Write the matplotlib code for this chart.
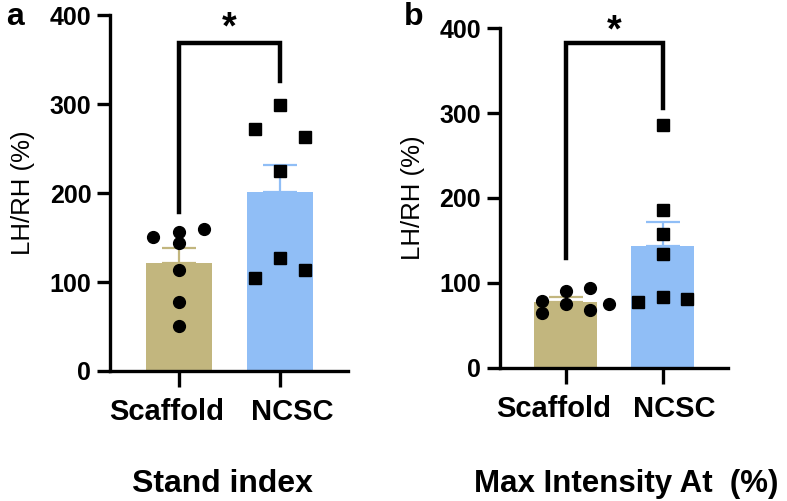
import numpy as np
import matplotlib
matplotlib.use('Agg')
import matplotlib.pyplot as plt
import matplotlib.transforms as mtransforms

plt.rcParams['font.family'] = ['Liberation Sans', 'DejaVu Sans']

# ──── Data ─────────────────────────────────────────────────────
GROUPS = ['Scaffold', 'NCSC']

STAND_MEAN = [121, 201]
STAND_SEM = [17, 31]
STAND_SCAF = [151, 156, 143.5, 159, 113.5, 77, 51]
STAND_NCSC = [271.5, 298.5, 263, 225, 126.6, 114, 105]
STAND_JIT_SCAF = [-0.25, 0, 0, 0.25, 0, 0, 0]
STAND_JIT_NCSC = [-0.25, 0, 0.25, 0, 0, 0.25, -0.25]
STAND_BRACKET = [179, 369, 326]

MAXI_MEAN = [78, 143]
MAXI_SEM = [5, 29]
MAXI_SCAF = [78.6, 90.8, 94.4, 75.1, 68, 75.1, 64.1]
MAXI_NCSC = [286, 186, 157, 134, 77.5, 83, 81]
MAXI_JIT_SCAF = [-0.25, 0, 0.25, 0, 0.25, 0.45, -0.25]
MAXI_JIT_NCSC = [0, 0, 0, 0, -0.25, 0, 0.25]
MAXI_BRACKET = [129, 383, 306]

C_SCAF = '#c2b67e'
C_NCSC = '#90bef6'


def panel(ax, mean, sem, scaf, ncsc, jit_s, jit_n, bracket, star_top):
    x = np.arange(2)
    cols = [C_SCAF, C_NCSC]
    ax.bar(x, mean, width=0.65, color=cols, zorder=1)
    for i in range(2):
        ax.errorbar(x[i], mean[i], yerr=[[0], [sem[i]]], color=cols[i],
                    lw=1.6, capsize=12, capthick=1.6, zorder=2)
    ax.plot(x[0] + np.asarray(jit_s), scaf, 'o', color='black', ms=8.5, zorder=3)
    ax.plot(x[1] + np.asarray(jit_n), ncsc, 's', color='black', ms=8, zorder=3)

    # significance bracket
    lo, top, hi = bracket
    ax.plot([0, 0, 1, 1], [lo, top, top, hi], color='black', lw=3.2,
            solid_joinstyle='miter', zorder=4, clip_on=False)
    ax.text(0.5, star_top, '*', ha='center', va='top', fontsize=27,
            fontweight='bold', clip_on=False)

    ax.set_ylim(0, 400)
    ax.set_xlim(-0.68, 1.675)
    ax.set_yticks([0, 100, 200, 300, 400])
    ax.set_xticks(x)
    ax.set_xticklabels(GROUPS)
    for s in ['top', 'right']:
        ax.spines[s].set_visible(False)
    for s in ['left', 'bottom']:
        ax.spines[s].set_linewidth(2.4)
    ax.tick_params(axis='y', width=2.4, length=9.5, labelsize=18, pad=4)
    ax.tick_params(axis='x', width=2.4, length=11.5, labelsize=21, pad=8)
    for lab in ax.get_xticklabels() + ax.get_yticklabels():
        lab.set_fontweight('bold')
    # labels in the original sit a bit wider apart than the bars
    for lab, dx in zip(ax.get_xticklabels(), [-12, 12]):
        lab.set_transform(lab.get_transform() +
                          mtransforms.ScaledTranslation(dx / 100, 0, fig.dpi_scale_trans))
    ax.set_ylabel('LH/RH (%)', fontsize=18.5, labelpad=10.5)


fig = plt.figure(figsize=(7.87, 5.01), dpi=100)
ax_a = fig.add_axes([0.1398, 0.2595, 0.3024, 0.7105])
ax_b = fig.add_axes([0.6353, 0.2661, 0.2897, 0.6774])

panel(ax_a, STAND_MEAN, STAND_SEM, STAND_SCAF, STAND_NCSC,
      STAND_JIT_SCAF, STAND_JIT_NCSC, STAND_BRACKET, 405)
panel(ax_b, MAXI_MEAN, MAXI_SEM, MAXI_SCAF, MAXI_NCSC,
      MAXI_JIT_SCAF, MAXI_JIT_NCSC, MAXI_BRACKET, 418)

fig.text(222 / 787, 0.018, 'Stand index', fontsize=23, fontweight='bold',
         ha='center', va='baseline')
fig.text(626 / 787, 0.018, 'Max Intensity At  (%)', fontsize=22.5,
         fontweight='bold', ha='center', va='baseline')

fig.text(0.008, 0.950, 'a', fontsize=23, fontweight='bold', va='baseline')
fig.text(0.513, 0.950, 'b', fontsize=23, fontweight='bold', va='baseline')

fig.savefig('out.png', dpi=100)
